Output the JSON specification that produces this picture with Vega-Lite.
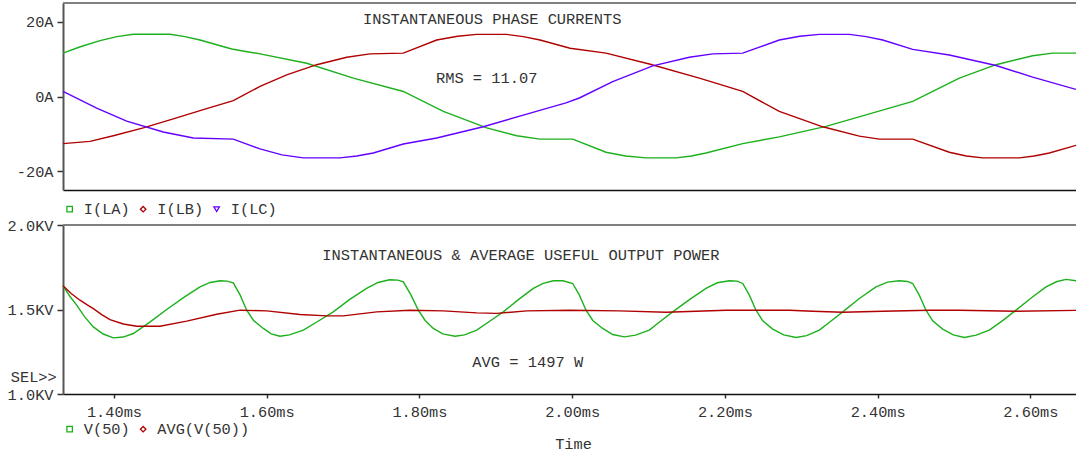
{
  "$schema": "https://vega.github.io/schema/vega-lite/v6.json",
  "background": "white",
  "padding": {"left": 7, "top": 2, "right": 0, "bottom": 0},
  "bounds": "flush",
  "spacing": 35,
  "config": {
    "view": {"stroke": null},
    "font": "Liberation Mono",
    "axis": {
      "labelFont": "Liberation Mono", "labelFontSize": 15.3, "labelColor": "#333333",
      "titleFont": "Liberation Mono", "titleFontSize": 15.3, "titleFontWeight": "normal", "titleColor": "#333333",
      "grid": false, "domainColor": "#222222", "tickColor": "#333333", "domainWidth": 1.5, "tickWidth": 1.5
    },
    "legend": {
      "orient": "none", "direction": "horizontal", "title": null, "padding": 0,
      "labelFont": "Liberation Mono", "labelFontSize": 15.3, "labelColor": "#333333",
      "symbolSize": 30, "symbolStrokeWidth": 1.3, "labelOffset": 6.5, "columnPadding": 5.5,
      "symbolType": "square"
    }
  },
  "resolve": {"scale": {"color": "independent"}, "legend": {"color": "independent"}},
  "vconcat": [
    {
      "width": 1013,
      "height": 187,
      "layer": [
        {
          "data": {"values": [
            {"s": "I(LA)", "t": 1.3333, "v": 11.6},
            {"s": "I(LA)", "t": 1.3560, "v": 13.3},
            {"s": "I(LA)", "t": 1.3818, "v": 14.95},
            {"s": "I(LA)", "t": 1.4040, "v": 16.0},
            {"s": "I(LA)", "t": 1.4254, "v": 16.64},
            {"s": "I(LA)", "t": 1.4734, "v": 16.64},
            {"s": "I(LA)", "t": 1.4930, "v": 16.0},
            {"s": "I(LA)", "t": 1.5127, "v": 15.1},
            {"s": "I(LA)", "t": 1.5542, "v": 12.7},
            {"s": "I(LA)", "t": 1.5913, "v": 11.4},
            {"s": "I(LA)", "t": 1.6524, "v": 8.9},
            {"s": "I(LA)", "t": 1.7134, "v": 4.9},
            {"s": "I(LA)", "t": 1.7789, "v": 1.35},
            {"s": "I(LA)", "t": 1.8313, "v": -4.0},
            {"s": "I(LA)", "t": 1.8881, "v": -8.4},
            {"s": "I(LA)", "t": 1.9274, "v": -10.5},
            {"s": "I(LA)", "t": 1.9579, "v": -11.4},
            {"s": "I(LA)", "t": 2.0007, "v": -11.4},
            {"s": "I(LA)", "t": 2.0443, "v": -14.9},
            {"s": "I(LA)", "t": 2.0700, "v": -15.9},
            {"s": "I(LA)", "t": 2.0967, "v": -16.4},
            {"s": "I(LA)", "t": 2.1360, "v": -16.4},
            {"s": "I(LA)", "t": 2.1560, "v": -15.9},
            {"s": "I(LA)", "t": 2.1752, "v": -15.1},
            {"s": "I(LA)", "t": 2.2233, "v": -12.6},
            {"s": "I(LA)", "t": 2.2712, "v": -10.8},
            {"s": "I(LA)", "t": 2.3324, "v": -8.0},
            {"s": "I(LA)", "t": 2.3847, "v": -4.9},
            {"s": "I(LA)", "t": 2.4459, "v": -1.3},
            {"s": "I(LA)", "t": 2.5069, "v": 4.9},
            {"s": "I(LA)", "t": 2.5550, "v": 8.5},
            {"s": "I(LA)", "t": 2.6030, "v": 10.9},
            {"s": "I(LA)", "t": 2.6292, "v": 11.6},
            {"s": "I(LA)", "t": 2.6597, "v": 11.6},
            {"s": "I(LB)", "t": 1.3333, "v": -12.6},
            {"s": "I(LB)", "t": 1.3687, "v": -12.0},
            {"s": "I(LB)", "t": 1.3992, "v": -10.5},
            {"s": "I(LB)", "t": 1.4384, "v": -8.4},
            {"s": "I(LB)", "t": 1.4777, "v": -6.0},
            {"s": "I(LB)", "t": 1.5170, "v": -3.5},
            {"s": "I(LB)", "t": 1.5563, "v": -1.1},
            {"s": "I(LB)", "t": 1.5913, "v": 2.7},
            {"s": "I(LB)", "t": 1.6262, "v": 5.8},
            {"s": "I(LB)", "t": 1.6655, "v": 8.5},
            {"s": "I(LB)", "t": 1.7048, "v": 10.5},
            {"s": "I(LB)", "t": 1.7353, "v": 11.4},
            {"s": "I(LB)", "t": 1.7789, "v": 11.6},
            {"s": "I(LB)", "t": 1.8226, "v": 15.1},
            {"s": "I(LB)", "t": 1.8500, "v": 16.1},
            {"s": "I(LB)", "t": 1.8750, "v": 16.6},
            {"s": "I(LB)", "t": 1.9143, "v": 16.6},
            {"s": "I(LB)", "t": 1.9360, "v": 16.0},
            {"s": "I(LB)", "t": 1.9579, "v": 15.1},
            {"s": "I(LB)", "t": 1.9972, "v": 12.9},
            {"s": "I(LB)", "t": 2.0443, "v": 11.6},
            {"s": "I(LB)", "t": 2.1010, "v": 8.7},
            {"s": "I(LB)", "t": 2.1665, "v": 4.9},
            {"s": "I(LB)", "t": 2.2233, "v": 1.35},
            {"s": "I(LB)", "t": 2.2712, "v": -4.0},
            {"s": "I(LB)", "t": 2.3281, "v": -8.1},
            {"s": "I(LB)", "t": 2.3760, "v": -10.6},
            {"s": "I(LB)", "t": 2.4022, "v": -11.4},
            {"s": "I(LB)", "t": 2.4459, "v": -11.4},
            {"s": "I(LB)", "t": 2.4938, "v": -14.9},
            {"s": "I(LB)", "t": 2.5160, "v": -15.9},
            {"s": "I(LB)", "t": 2.5376, "v": -16.4},
            {"s": "I(LB)", "t": 2.5855, "v": -16.4},
            {"s": "I(LB)", "t": 2.6050, "v": -15.9},
            {"s": "I(LB)", "t": 2.6248, "v": -15.1},
            {"s": "I(LB)", "t": 2.6597, "v": -13.05},
            {"s": "I(LC)", "t": 1.3333, "v": 1.35},
            {"s": "I(LC)", "t": 1.3774, "v": -3.1},
            {"s": "I(LC)", "t": 1.4167, "v": -6.6},
            {"s": "I(LC)", "t": 1.4646, "v": -9.5},
            {"s": "I(LC)", "t": 1.5039, "v": -11.1},
            {"s": "I(LC)", "t": 1.5563, "v": -11.4},
            {"s": "I(LC)", "t": 1.5913, "v": -14.0},
            {"s": "I(LC)", "t": 1.6200, "v": -15.6},
            {"s": "I(LC)", "t": 1.6480, "v": -16.4},
            {"s": "I(LC)", "t": 1.6960, "v": -16.4},
            {"s": "I(LC)", "t": 1.7180, "v": -15.9},
            {"s": "I(LC)", "t": 1.7396, "v": -15.1},
            {"s": "I(LC)", "t": 1.7789, "v": -12.7},
            {"s": "I(LC)", "t": 1.8226, "v": -11.1},
            {"s": "I(LC)", "t": 1.8836, "v": -8.1},
            {"s": "I(LC)", "t": 1.9405, "v": -4.7},
            {"s": "I(LC)", "t": 1.9919, "v": -1.7},
            {"s": "I(LC)", "t": 2.0094, "v": -0.4},
            {"s": "I(LC)", "t": 2.0531, "v": 4.0},
            {"s": "I(LC)", "t": 2.1055, "v": 8.2},
            {"s": "I(LC)", "t": 2.1534, "v": 10.5},
            {"s": "I(LC)", "t": 2.1840, "v": 11.4},
            {"s": "I(LC)", "t": 2.2233, "v": 11.6},
            {"s": "I(LC)", "t": 2.2712, "v": 15.1},
            {"s": "I(LC)", "t": 2.2980, "v": 16.1},
            {"s": "I(LC)", "t": 2.3236, "v": 16.6},
            {"s": "I(LC)", "t": 2.3629, "v": 16.6},
            {"s": "I(LC)", "t": 2.3850, "v": 16.0},
            {"s": "I(LC)", "t": 2.4066, "v": 15.1},
            {"s": "I(LC)", "t": 2.4459, "v": 12.6},
            {"s": "I(LC)", "t": 2.4938, "v": 11.1},
            {"s": "I(LC)", "t": 2.5550, "v": 8.3},
            {"s": "I(LC)", "t": 2.6030, "v": 5.2},
            {"s": "I(LC)", "t": 2.6597, "v": 1.9}
          ]},
          "mark": {"type": "line", "strokeWidth": 1.4},
          "encoding": {
            "x": {"field": "t", "type": "quantitative",
                  "scale": {"domain": [1.3333, 2.6597], "nice": false, "zero": false},
                  "axis": {"labels": false, "ticks": false, "title": null, "domainColor": "#111111"}},
            "y": {"field": "v", "type": "quantitative",
                  "scale": {"domain": [-25, 25], "nice": false, "zero": false},
                  "axis": {"values": [-20, 0, 20], "labelExpr": "datum.value + 'A'", "title": null,
                           "tickSize": 6, "labelPadding": 4, "domainColor": "#555555", "domainWidth": 2}},
            "color": {"field": "s", "type": "nominal",
                      "scale": {"domain": ["I(LA)", "I(LB)", "I(LC)"], "range": ["#1cb01c", "#b00000", "#6400ff"]},
                      "legend": {"legendX": -1, "legendY": 198.5,
                                 "encode": {"symbols": {"update": {
                                   "shape": {"signal": "datum.value == 'I(LA)' ? 'square' : datum.value == 'I(LB)' ? 'diamond' : 'triangle-down'"},
                                   "fill": {"value": "transparent"}}}}}}
          }
        },
        {
          "data": {"values": [{}]},
          "mark": {"type": "rule", "color": "#808080", "strokeWidth": 2},
          "encoding": {"y": {"datum": 25}}
        },
        {
          "data": {"values": [{}]},
          "mark": {"type": "text", "font": "Liberation Mono", "fontSize": 15.4, "color": "#333333", "align": "center", "baseline": "middle"},
          "encoding": {"x": {"datum": 1.8953}, "y": {"datum": 20.78}, "text": {"value": "INSTANTANEOUS PHASE CURRENTS"}}
        },
        {
          "data": {"values": [{}]},
          "mark": {"type": "text", "font": "Liberation Mono", "fontSize": 15.4, "color": "#333333", "align": "center", "baseline": "middle"},
          "encoding": {"x": {"datum": 1.8881}, "y": {"datum": 5.03}, "text": {"value": "RMS = 11.07"}}
        }
      ]
    },
    {
      "width": 1013,
      "height": 169,
      "layer": [
        {
          "data": {"values": [
            {"s": "V(50)", "t": 1.3333, "v": 1.640},
            {"s": "V(50)", "t": 1.3420, "v": 1.580},
            {"s": "V(50)", "t": 1.3512, "v": 1.526},
            {"s": "V(50)", "t": 1.3620, "v": 1.455},
            {"s": "V(50)", "t": 1.3730, "v": 1.397},
            {"s": "V(50)", "t": 1.3860, "v": 1.355},
            {"s": "V(50)", "t": 1.3992, "v": 1.332},
            {"s": "V(50)", "t": 1.4120, "v": 1.337},
            {"s": "V(50)", "t": 1.4254, "v": 1.358},
            {"s": "V(50)", "t": 1.4470, "v": 1.425},
            {"s": "V(50)", "t": 1.4691, "v": 1.500},
            {"s": "V(50)", "t": 1.4910, "v": 1.570},
            {"s": "V(50)", "t": 1.5127, "v": 1.634},
            {"s": "V(50)", "t": 1.5260, "v": 1.660},
            {"s": "V(50)", "t": 1.5389, "v": 1.670},
            {"s": "V(50)", "t": 1.5480, "v": 1.668},
            {"s": "V(50)", "t": 1.5563, "v": 1.658},
            {"s": "V(50)", "t": 1.5653, "v": 1.585},
            {"s": "V(50)", "t": 1.5738, "v": 1.496},
            {"s": "V(50)", "t": 1.5828, "v": 1.435},
            {"s": "V(50)", "t": 1.5956, "v": 1.388},
            {"s": "V(50)", "t": 1.6058, "v": 1.356},
            {"s": "V(50)", "t": 1.6174, "v": 1.342},
            {"s": "V(50)", "t": 1.6298, "v": 1.350},
            {"s": "V(50)", "t": 1.6480, "v": 1.378},
            {"s": "V(50)", "t": 1.6678, "v": 1.432},
            {"s": "V(50)", "t": 1.6872, "v": 1.486},
            {"s": "V(50)", "t": 1.7088, "v": 1.560},
            {"s": "V(50)", "t": 1.7308, "v": 1.625},
            {"s": "V(50)", "t": 1.7458, "v": 1.660},
            {"s": "V(50)", "t": 1.7608, "v": 1.676},
            {"s": "V(50)", "t": 1.7718, "v": 1.674},
            {"s": "V(50)", "t": 1.7789, "v": 1.664},
            {"s": "V(50)", "t": 1.7890, "v": 1.585},
            {"s": "V(50)", "t": 1.7985, "v": 1.496},
            {"s": "V(50)", "t": 1.8075, "v": 1.435},
            {"s": "V(50)", "t": 1.8182, "v": 1.388},
            {"s": "V(50)", "t": 1.8305, "v": 1.356},
            {"s": "V(50)", "t": 1.8466, "v": 1.342},
            {"s": "V(50)", "t": 1.8590, "v": 1.350},
            {"s": "V(50)", "t": 1.8750, "v": 1.378},
            {"s": "V(50)", "t": 1.8925, "v": 1.432},
            {"s": "V(50)", "t": 1.9098, "v": 1.486},
            {"s": "V(50)", "t": 1.9300, "v": 1.560},
            {"s": "V(50)", "t": 1.9491, "v": 1.625},
            {"s": "V(50)", "t": 1.9620, "v": 1.655},
            {"s": "V(50)", "t": 1.9753, "v": 1.670},
            {"s": "V(50)", "t": 1.9880, "v": 1.670},
            {"s": "V(50)", "t": 2.0007, "v": 1.654},
            {"s": "V(50)", "t": 2.0095, "v": 1.585},
            {"s": "V(50)", "t": 2.0181, "v": 1.496},
            {"s": "V(50)", "t": 2.0270, "v": 1.435},
            {"s": "V(50)", "t": 2.0400, "v": 1.388},
            {"s": "V(50)", "t": 2.0530, "v": 1.352},
            {"s": "V(50)", "t": 2.0683, "v": 1.338},
            {"s": "V(50)", "t": 2.0830, "v": 1.348},
            {"s": "V(50)", "t": 2.1010, "v": 1.378},
            {"s": "V(50)", "t": 2.1160, "v": 1.432},
            {"s": "V(50)", "t": 2.1316, "v": 1.486},
            {"s": "V(50)", "t": 2.1540, "v": 1.560},
            {"s": "V(50)", "t": 2.1752, "v": 1.625},
            {"s": "V(50)", "t": 2.1900, "v": 1.658},
            {"s": "V(50)", "t": 2.2058, "v": 1.670},
            {"s": "V(50)", "t": 2.2160, "v": 1.668},
            {"s": "V(50)", "t": 2.2233, "v": 1.654},
            {"s": "V(50)", "t": 2.2320, "v": 1.585},
            {"s": "V(50)", "t": 2.2407, "v": 1.496},
            {"s": "V(50)", "t": 2.2495, "v": 1.433},
            {"s": "V(50)", "t": 2.2626, "v": 1.384},
            {"s": "V(50)", "t": 2.2770, "v": 1.350},
            {"s": "V(50)", "t": 2.2931, "v": 1.334},
            {"s": "V(50)", "t": 2.3070, "v": 1.345},
            {"s": "V(50)", "t": 2.3236, "v": 1.378},
            {"s": "V(50)", "t": 2.3390, "v": 1.432},
            {"s": "V(50)", "t": 2.3543, "v": 1.486},
            {"s": "V(50)", "t": 2.3760, "v": 1.565},
            {"s": "V(50)", "t": 2.3978, "v": 1.634},
            {"s": "V(50)", "t": 2.4130, "v": 1.662},
            {"s": "V(50)", "t": 2.4284, "v": 1.670},
            {"s": "V(50)", "t": 2.4390, "v": 1.666},
            {"s": "V(50)", "t": 2.4459, "v": 1.654},
            {"s": "V(50)", "t": 2.4545, "v": 1.585},
            {"s": "V(50)", "t": 2.4633, "v": 1.496},
            {"s": "V(50)", "t": 2.4720, "v": 1.433},
            {"s": "V(50)", "t": 2.4852, "v": 1.384},
            {"s": "V(50)", "t": 2.4990, "v": 1.350},
            {"s": "V(50)", "t": 2.5135, "v": 1.334},
            {"s": "V(50)", "t": 2.5290, "v": 1.348},
            {"s": "V(50)", "t": 2.5462, "v": 1.378},
            {"s": "V(50)", "t": 2.5640, "v": 1.436},
            {"s": "V(50)", "t": 2.5812, "v": 1.496},
            {"s": "V(50)", "t": 2.6010, "v": 1.568},
            {"s": "V(50)", "t": 2.6204, "v": 1.634},
            {"s": "V(50)", "t": 2.6340, "v": 1.664},
            {"s": "V(50)", "t": 2.6466, "v": 1.678},
            {"s": "V(50)", "t": 2.6597, "v": 1.670},
            {"s": "AVG(V(50))", "t": 1.3333, "v": 1.640},
            {"s": "AVG(V(50))", "t": 1.3440, "v": 1.595},
            {"s": "AVG(V(50))", "t": 1.3556, "v": 1.555},
            {"s": "AVG(V(50))", "t": 1.3650, "v": 1.527},
            {"s": "AVG(V(50))", "t": 1.3730, "v": 1.505},
            {"s": "AVG(V(50))", "t": 1.3840, "v": 1.470},
            {"s": "AVG(V(50))", "t": 1.3948, "v": 1.440},
            {"s": "AVG(V(50))", "t": 1.4123, "v": 1.414},
            {"s": "AVG(V(50))", "t": 1.4298, "v": 1.401},
            {"s": "AVG(V(50))", "t": 1.4603, "v": 1.401},
            {"s": "AVG(V(50))", "t": 1.4953, "v": 1.431},
            {"s": "AVG(V(50))", "t": 1.5346, "v": 1.472},
            {"s": "AVG(V(50))", "t": 1.5651, "v": 1.496},
            {"s": "AVG(V(50))", "t": 1.6000, "v": 1.492},
            {"s": "AVG(V(50))", "t": 1.6436, "v": 1.470},
            {"s": "AVG(V(50))", "t": 1.6786, "v": 1.462},
            {"s": "AVG(V(50))", "t": 1.7003, "v": 1.462},
            {"s": "AVG(V(50))", "t": 1.7441, "v": 1.486},
            {"s": "AVG(V(50))", "t": 1.7877, "v": 1.496},
            {"s": "AVG(V(50))", "t": 1.8313, "v": 1.492},
            {"s": "AVG(V(50))", "t": 1.8750, "v": 1.480},
            {"s": "AVG(V(50))", "t": 1.9012, "v": 1.477},
            {"s": "AVG(V(50))", "t": 1.9405, "v": 1.492},
            {"s": "AVG(V(50))", "t": 1.9972, "v": 1.496},
            {"s": "AVG(V(50))", "t": 2.0617, "v": 1.492},
            {"s": "AVG(V(50))", "t": 2.1229, "v": 1.484},
            {"s": "AVG(V(50))", "t": 2.2014, "v": 1.496},
            {"s": "AVG(V(50))", "t": 2.2843, "v": 1.496},
            {"s": "AVG(V(50))", "t": 2.3150, "v": 1.490},
            {"s": "AVG(V(50))", "t": 2.3543, "v": 1.484},
            {"s": "AVG(V(50))", "t": 2.4066, "v": 1.490},
            {"s": "AVG(V(50))", "t": 2.4676, "v": 1.496},
            {"s": "AVG(V(50))", "t": 2.5069, "v": 1.496},
            {"s": "AVG(V(50))", "t": 2.5812, "v": 1.490},
            {"s": "AVG(V(50))", "t": 2.6597, "v": 1.495}
          ]},
          "mark": {"type": "line", "strokeWidth": 1.4},
          "encoding": {
            "x": {"field": "t", "type": "quantitative",
                  "scale": {"domain": [1.3333, 2.6597], "nice": false, "zero": false},
                  "axis": {"values": [1.4, 1.6, 1.8, 2.0, 2.2, 2.4, 2.6],
                           "labelExpr": "format(datum.value, '.2f') + 'ms'",
                           "title": "Time", "titlePadding": 17, "titleX": 510,
                           "tickSize": 4, "labelPadding": 6, "domainColor": "#111111", "labelFlush": false}},
            "y": {"field": "v", "type": "quantitative",
                  "scale": {"domain": [1.0, 2.0], "nice": false, "zero": false},
                  "axis": {"values": [1.0, 1.5, 2.0], "labelExpr": "format(datum.value, '.1f') + 'KV'", "title": null,
                           "tickSize": 6, "labelPadding": 4, "domainColor": "#555555", "domainWidth": 2}},
            "color": {"field": "s", "type": "nominal",
                      "scale": {"domain": ["V(50)", "AVG(V(50))"], "range": ["#1cb01c", "#b00000"]},
                      "legend": {"legendX": -1, "legendY": 196.5,
                                 "encode": {"symbols": {"update": {
                                   "shape": {"signal": "datum.value == 'V(50)' ? 'square' : 'diamond'"},
                                   "fill": {"value": "transparent"}}}}}}
          }
        },
        {
          "data": {"values": [{}]},
          "mark": {"type": "rule", "color": "#808080", "strokeWidth": 2},
          "encoding": {"y": {"datum": 2.0}}
        },
        {
          "data": {"values": [{}]},
          "mark": {"type": "text", "font": "Liberation Mono", "fontSize": 15.4, "color": "#333333", "align": "center", "baseline": "middle"},
          "encoding": {"x": {"datum": 1.9328}, "y": {"datum": 1.8207}, "text": {"value": "INSTANTANEOUS & AVERAGE USEFUL OUTPUT POWER"}}
        },
        {
          "data": {"values": [{}]},
          "mark": {"type": "text", "font": "Liberation Mono", "fontSize": 15.4, "color": "#333333", "align": "center", "baseline": "middle"},
          "encoding": {"x": {"datum": 1.9418}, "y": {"datum": 1.1893}, "text": {"value": "AVG = 1497 W"}}
        },
        {
          "data": {"values": [{}]},
          "mark": {"type": "text", "font": "Liberation Mono", "fontSize": 15.3, "color": "#333333", "align": "right", "baseline": "middle", "clip": false},
          "encoding": {"x": {"datum": 1.3251}, "y": {"datum": 1.1006}, "text": {"value": "SEL>>"}}
        }
      ]
    }
  ]
}
